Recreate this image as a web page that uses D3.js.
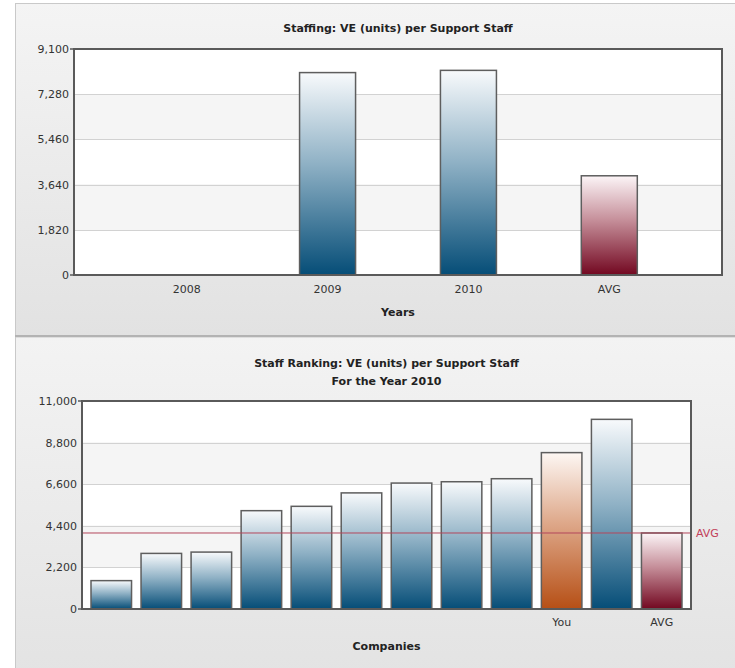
<!DOCTYPE html>
<html><head><meta charset="utf-8">
<script src="https://cdn.jsdelivr.net/npm/d3@7"></script>
<style>body{margin:0;background:#fff}svg{display:block}text{font-family:"DejaVu Sans",Verdana,sans-serif}</style>
</head><body>
<script>
// ---- data ----
const years = ["2008", "2009", "2010", "AVG"];
const staffingValues = [0, 8150, 8240, 3995];
const staffingTicks = [0, 1820, 3640, 5460, 7280, 9100];

const companyLabels = ["", "", "", "", "", "", "", "", "", "You", "", "AVG"];
const companyKinds = ["c", "c", "c", "c", "c", "c", "c", "c", "c", "you", "c", "avg"];
const rankingValues = [1500, 2940, 3010, 5200, 5430, 6140, 6660, 6730, 6890, 8270, 10030, 4020];
const rankingTicks = [0, 2200, 4400, 6600, 8800, 11000];
const rankingAvg = 4020;

const W = 735, H = 668;
const svg = d3.select("body").append("svg").attr("width", W).attr("height", H);
const defs = svg.append("defs");

function grad(id, stops, x2, y2) {
  const g = defs.append("linearGradient").attr("id", id)
    .attr("x1", 0).attr("y1", 0).attr("x2", x2).attr("y2", y2);
  stops.forEach(([o, c]) => g.append("stop").attr("offset", o).attr("stop-color", c));
}
grad("gBlue", [[0, "#f8fafc"], [0.45, "#8fb1c5"], [1, "#054d77"]], 0, 1);
grad("gOrange", [[0, "#fdf7f3"], [0.45, "#dea88a"], [1, "#b64f15"]], 0, 1);
grad("gRed", [[0, "#fcf5f7"], [0.45, "#c58e99"], [1, "#720720"]], 0, 1);
grad("gPanel1", [[0, "#f4f4f4"], [1, "#e2e2e2"]], 0, 1);
grad("gPanel2", [[0, "#f3f3f3"], [1, "#e3e3e3"]], 0, 1);
const fillFor = k => k === "avg" ? "url(#gRed)" : k === "you" ? "url(#gOrange)" : "url(#gBlue)";

const FS = "11px";

// panels
svg.append("rect").attr("x", 15.5).attr("y", 3.5).attr("width", 730).attr("height", 332)
  .attr("fill", "url(#gPanel1)").attr("stroke", "#c9c9c9");
svg.append("rect").attr("x", 15.5).attr("y", 337).attr("width", 730).attr("height", 340)
  .attr("fill", "url(#gPanel2)").attr("stroke", "#c9c9c9");
svg.append("line").attr("x1", 15).attr("x2", W).attr("y1", 336).attr("y2", 336)
  .attr("stroke", "#b3b3b3").attr("stroke-width", 2);

function plotFrame(g, x0, x1, y0, y1, y, ticks) {
  for (let i = 0; i < ticks.length - 1; i++) {
    const top = y(ticks[ticks.length - 1 - i]), bot = y(ticks[ticks.length - 2 - i]);
    g.append("rect").attr("x", x0).attr("y", top).attr("width", x1 - x0).attr("height", bot - top)
      .attr("fill", i % 2 === 0 ? "#ffffff" : "#f5f5f5");
  }
  g.selectAll("line.grid").data(ticks).join("line").attr("class", "grid")
    .attr("x1", x0).attr("x2", x1).attr("y1", d => Math.round(y(d)) + 0.5).attr("y2", d => Math.round(y(d)) + 0.5)
    .attr("stroke", "#d2d2d2");
}
function yAxis(g, x, y, ticks) {
  const ax = d3.axisLeft(y).tickValues(ticks).tickFormat(d3.format(",")).tickSize(0).tickPadding(5);
  const a = g.append("g").attr("transform", `translate(${x},0)`).call(ax);
  a.select(".domain").remove();
  a.selectAll("text").attr("fill", "#333").style("font-size", FS).style("font-family", "DejaVu Sans, Verdana, sans-serif");
}
function frame(g, x0, x1, y0, y1) {
  g.append("rect").attr("x", x0).attr("y", y0).attr("width", x1 - x0).attr("height", y1 - y0)
    .attr("fill", "none").attr("stroke", "#5a5a5a").attr("stroke-width", 2);
  [y0, y1].forEach(yy => g.append("line").attr("x1", x0 - 4).attr("x2", x0).attr("y1", yy).attr("y2", yy)
    .attr("stroke", "#5a5a5a").attr("stroke-width", 1.5));
}

// ---- chart 1 ----
{
  const x0 = 74, x1 = 722, y0 = 49, y1 = 275;
  const g = svg.append("g");
  const y = d3.scaleLinear().domain([0, 9100]).range([y1, y0]);
  const x = d3.scalePoint().domain(years).range([x0, x1]).padding(0.8);
  plotFrame(g, x0, x1, y0, y1, y, staffingTicks);
  const bw = 56;
  g.selectAll("rect.bar").data(years.map((d, i) => ({ c: d, v: staffingValues[i] })).filter(d => d.v > 0))
    .join("rect").attr("class", "bar")
    .attr("x", d => x(d.c) - bw / 2).attr("width", bw)
    .attr("y", d => y(d.v)).attr("height", d => y1 - y(d.v))
    .attr("fill", d => fillFor(d.c === "AVG" ? "avg" : "c"))
    .attr("stroke", "#5e5e5e").attr("stroke-width", 1.5);
  frame(g, x0, x1, y0, y1);
  yAxis(g, x0, y, staffingTicks);
  g.selectAll("text.xl").data(years).join("text").attr("class", "xl")
    .attr("x", d => x(d)).attr("y", 293).attr("text-anchor", "middle")
    .style("font-size", FS).attr("fill", "#333").text(d => d);
  svg.append("text").attr("x", (x0 + x1) / 2).attr("y", 32).attr("text-anchor", "middle")
    .style("font-size", FS).style("font-weight", "bold").attr("fill", "#222")
    .text("Staffing: VE (units) per Support Staff");
  svg.append("text").attr("x", (x0 + x1) / 2).attr("y", 316).attr("text-anchor", "middle")
    .style("font-size", FS).style("font-weight", "bold").attr("fill", "#222").text("Years");
}

// ---- chart 2 ----
{
  const x0 = 82, x1 = 691, y0 = 401, y1 = 609;
  const g = svg.append("g");
  const y = d3.scaleLinear().domain([0, 11000]).range([y1, y0]);
  const idx = d3.range(rankingValues.length);
  const x = d3.scaleBand().domain(idx).range([x0, x1]).paddingInner(0.19).paddingOuter(0.18);
  plotFrame(g, x0, x1, y0, y1, y, rankingTicks);
  g.selectAll("rect.bar").data(idx).join("rect").attr("class", "bar")
    .attr("x", i => x(i)).attr("width", x.bandwidth())
    .attr("y", i => y(rankingValues[i])).attr("height", i => y1 - y(rankingValues[i]))
    .attr("fill", i => fillFor(companyKinds[i]))
    .attr("stroke", "#5e5e5e").attr("stroke-width", 1.5);
  g.append("line").attr("x1", x0).attr("x2", x1).attr("y1", y(rankingAvg)).attr("y2", y(rankingAvg))
    .attr("stroke", "#b3475c").attr("stroke-width", 1);
  g.append("text").attr("x", x1 + 5).attr("y", y(rankingAvg)).attr("dy", "0.35em")
    .style("font-size", FS).attr("fill", "#c2405a").text("AVG");
  frame(g, x0, x1, y0, y1);
  yAxis(g, x0, y, rankingTicks);
  g.selectAll("text.xl").data(idx).join("text").attr("class", "xl")
    .attr("x", i => x(i) + x.bandwidth() / 2).attr("y", 626).attr("text-anchor", "middle")
    .style("font-size", FS).attr("fill", "#333").text(i => companyLabels[i]);
  svg.append("text").attr("x", (x0 + x1) / 2).attr("y", 367).attr("text-anchor", "middle")
    .style("font-size", FS).style("font-weight", "bold").attr("fill", "#222")
    .text("Staff Ranking: VE (units) per Support Staff");
  svg.append("text").attr("x", (x0 + x1) / 2).attr("y", 385).attr("text-anchor", "middle")
    .style("font-size", FS).style("font-weight", "bold").attr("fill", "#222")
    .text("For the Year 2010");
  svg.append("text").attr("x", (x0 + x1) / 2).attr("y", 650).attr("text-anchor", "middle")
    .style("font-size", FS).style("font-weight", "bold").attr("fill", "#222").text("Companies");
}
</script>
</body></html>
